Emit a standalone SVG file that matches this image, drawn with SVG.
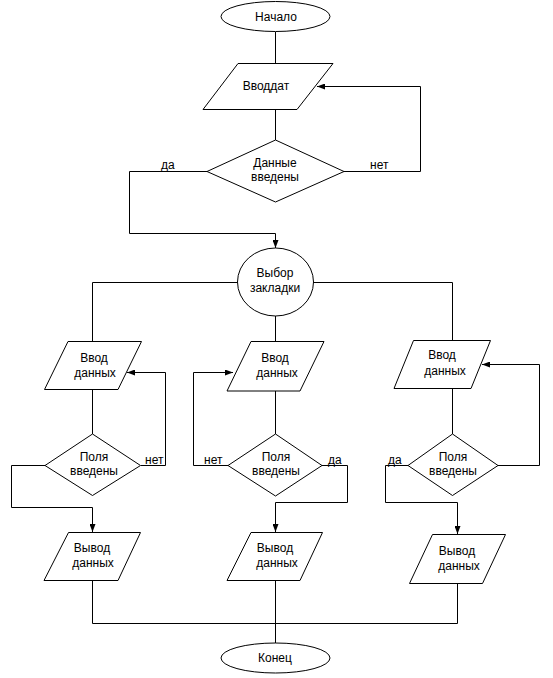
<svg xmlns="http://www.w3.org/2000/svg" width="553" height="678" viewBox="0 0 553 678">
<style>
.s{fill:#fff;stroke:#000;stroke-width:1}
.c{fill:none;stroke:#000;stroke-width:1}
.t{font-family:"Liberation Sans",Arial,sans-serif;font-size:12px;fill:#000;text-anchor:middle}
.l{font-family:"Liberation Sans",Arial,sans-serif;font-size:12px;fill:#000}
</style>
<defs>
<marker id="a" markerUnits="userSpaceOnUse" markerWidth="8" markerHeight="6" refX="8" refY="3" orient="auto">
<path d="M0,0 L8,3 L0,6 z" fill="#000"/>
</marker>
</defs>
<rect width="553" height="678" fill="#fff"/>
<g id="connectors">
<path class="c" d="M275.5,32 V63"/>
<path class="c" d="M275.5,109 V140"/>
<path class="c" d="M344,171.5 H420.5 V86.5 H317" marker-end="url(#a)"/>
<path class="c" d="M207,171.5 H129.5 V233.5 H275.5 V248" marker-end="url(#a)"/>
<path class="c" d="M237,282.5 H92.5 V341"/>
<path class="c" d="M313,282.5 H452.5 V340"/>
<path class="c" d="M275.5,316 V341"/>
<path class="c" d="M92.5,389 V434"/>
<path class="c" d="M141,465.5 H165.5 V372.5 H127" marker-end="url(#a)"/>
<path class="c" d="M45,465.5 H11.5 V507.5 H92.5 V532" marker-end="url(#a)"/>
<path class="c" d="M275.5,391 V434"/>
<path class="c" d="M228,465.5 H193.5 V372.5 H233" marker-end="url(#a)"/>
<path class="c" d="M322,465.5 H347.5 V502.5 H275.5 V532" marker-end="url(#a)"/>
<path class="c" d="M452.5,388 V434"/>
<path class="c" d="M498,465.5 H539.5 V364.5 H482" marker-end="url(#a)"/>
<path class="c" d="M408,465.5 H385.5 V502.5 H457.5 V534" marker-end="url(#a)"/>
<path class="c" d="M92.5,580 V623.5 H457.5 V583"/>
<path class="c" d="M275.5,580 V643"/>
</g>
<g id="start">
<ellipse class="s" cx="275.5" cy="16.5" rx="54.5" ry="15"/>
<text class="t" x="276" y="21">Начало</text>
</g>
<g id="input">
<polygon class="s" points="238,63.5 333,63.5 297,109.5 203,109.5"/>
<text class="t" x="266" y="90">Вводдат</text>
</g>
<g id="check">
<polygon class="s" points="275.5,140 344,171.5 275.5,202 207,171.5"/>
<text class="t" x="275" y="167">Данные</text>
<text class="t" x="275" y="181">введены</text>
</g>
<g id="labels-top">
<text class="l" x="161" y="169">да</text>
<text class="l" x="370" y="169">нет</text>
</g>
<g id="choice">
<ellipse class="s" cx="275.5" cy="282" rx="38" ry="34"/>
<text class="t" x="275" y="277">Выбор</text>
<text class="t" x="275" y="292">закладки</text>
</g>
<g id="in1">
<polygon class="s" points="68,341.5 141.5,341.5 118,389.5 44.5,389.5"/>
<text class="t" x="94" y="362">Ввод</text>
<text class="t" x="95" y="377">данных</text>
</g>
<g id="in2">
<polygon class="s" points="251,341.5 324,341.5 300,391 227,391"/>
<text class="t" x="275" y="362">Ввод</text>
<text class="t" x="277" y="377">данных</text>
</g>
<g id="in3">
<polygon class="s" points="413.5,340.5 490.5,340.5 471,388.5 394,388.5"/>
<text class="t" x="442" y="359">Ввод</text>
<text class="t" x="445" y="375">данных</text>
</g>
<g id="chk1">
<polygon class="s" points="92.5,434 140.5,465.5 92.5,495.5 45,465.5"/>
<text class="t" x="94" y="461">Поля</text>
<text class="t" x="94" y="475">введены</text>
</g>
<g id="chk2">
<polygon class="s" points="275.5,434 322,465.5 275.5,496 228,465.5"/>
<text class="t" x="276" y="461">Поля</text>
<text class="t" x="276" y="475">введены</text>
</g>
<g id="chk3">
<polygon class="s" points="452.5,434 498,465.5 452.5,495.5 408,465.5"/>
<text class="t" x="453" y="461">Поля</text>
<text class="t" x="453" y="475">введены</text>
</g>
<g id="labels-mid">
<text class="l" x="145" y="464">нет</text>
<text class="l" x="204" y="464">нет</text>
<text class="l" x="328" y="464">да</text>
<text class="l" x="388" y="464">да</text>
</g>
<g id="out1">
<polygon class="s" points="68.5,532.5 140.5,532.5 118,580.5 44,580.5"/>
<text class="t" x="92" y="552">Вывод</text>
<text class="t" x="93" y="567">данных</text>
</g>
<g id="out2">
<polygon class="s" points="251,532.5 322.5,532.5 300,580.5 227,580.5"/>
<text class="t" x="275" y="552">Вывод</text>
<text class="t" x="277" y="567">данных</text>
</g>
<g id="out3">
<polygon class="s" points="432.5,534.5 505.5,534.5 482.5,583.5 409.5,583.5"/>
<text class="t" x="457" y="555">Вывод</text>
<text class="t" x="459" y="570">данных</text>
</g>
<g id="end">
<ellipse class="s" cx="275.5" cy="658" rx="54.5" ry="15"/>
<text class="t" x="275" y="662">Конец</text>
</g>
</svg>
